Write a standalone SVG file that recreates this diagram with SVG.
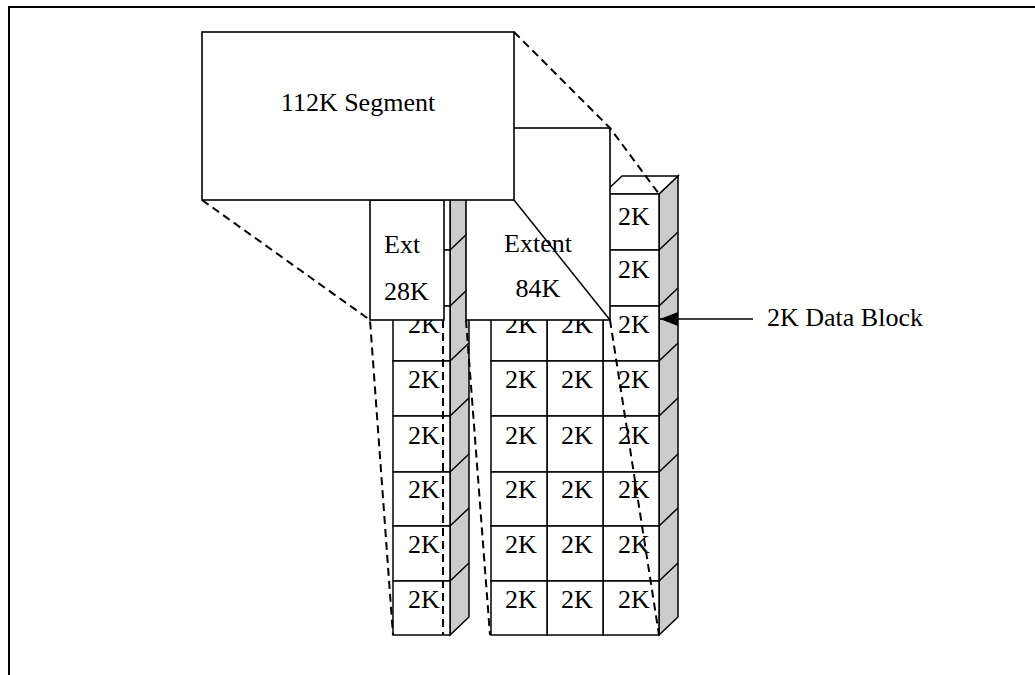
<svg xmlns="http://www.w3.org/2000/svg" width="1035" height="675" viewBox="0 0 1035 675">
  <style>
    .frame { stroke:#000; stroke-width:2; fill:none }
    .cell { fill:#fff; stroke:#000; stroke-width:1.5 }
    .side { fill:#cccccc; stroke:#000; stroke-width:1.5; stroke-linejoin:miter }
    .edge { stroke:#000; stroke-width:1.5; fill:none }
    .box { fill:#fff; stroke:#000; stroke-width:1.6 }
    .dash { stroke:#000; stroke-width:2; stroke-dasharray:8 5; fill:none }
    .t { font-family:"Liberation Serif","Times New Roman",serif; font-size:26px; fill:#000 }
    .c { text-anchor:middle }
  </style>
  <defs>
    <marker id="arrowhead" viewBox="0 0 18 14" refX="18" refY="7" markerWidth="18" markerHeight="14" markerUnits="userSpaceOnUse" orient="auto">
      <path d="M0,0 L18,7 L0,14 Z" fill="#000"/>
    </marker>
  </defs>

  <rect width="1035" height="675" fill="#fff"/>

  <!-- page frame: top and left rules -->
  <g id="frame">
    <path class="frame" d="M9,675 L9,7 L1035,7"/>
  </g>

  <!-- single stack of 2K blocks under the 28K extent -->
  <g id="column-28k">
    <polygon class="side" points="450,194 469,176 469,617 450,635"/>
    <path class="edge" d="M450,250 L469,232 M450,306 L469,288 M450,361 L469,343 M450,416 L469,398 M450,472 L469,454 M450,526 L469,508 M450,581 L469,563"/>
    <rect class="cell" x="393" y="194" width="57" height="56"/>
    <rect class="cell" x="393" y="250" width="57" height="56"/>
    <rect class="cell" x="393" y="306" width="57" height="55"/>
    <rect class="cell" x="393" y="361" width="57" height="55"/>
    <rect class="cell" x="393" y="416" width="57" height="56"/>
    <rect class="cell" x="393" y="472" width="57" height="54"/>
    <rect class="cell" x="393" y="526" width="57" height="55"/>
    <rect class="cell" x="393" y="581" width="57" height="54"/>
    <g class="t c">
      <text x="424" y="333">2K</text>
      <text x="424" y="388">2K</text>
      <text x="424" y="444">2K</text>
      <text x="424" y="498">2K</text>
      <text x="424" y="553">2K</text>
      <text x="424" y="608">2K</text>
    </g>
  </g>

  <!-- three stacks of 2K blocks under the 84K extent -->
  <g id="block-84k">
    <polygon class="side" points="659,194 678,176 678,617 659,635"/>
    <polygon class="cell" points="603,194 622,176 678,176 659,194"/>
    <path class="edge" d="M659,250 L678,232 M659,306 L678,288 M659,361 L678,343 M659,416 L678,398 M659,472 L678,454 M659,526 L678,508 M659,581 L678,563"/>
    <!-- right stack, full height -->
    <rect class="cell" x="603" y="194" width="56" height="56"/>
    <rect class="cell" x="603" y="250" width="56" height="56"/>
    <rect class="cell" x="603" y="306" width="56" height="55"/>
    <rect class="cell" x="603" y="361" width="56" height="55"/>
    <rect class="cell" x="603" y="416" width="56" height="56"/>
    <rect class="cell" x="603" y="472" width="56" height="54"/>
    <rect class="cell" x="603" y="526" width="56" height="55"/>
    <rect class="cell" x="603" y="581" width="56" height="54"/>
    <!-- middle stack -->
    <rect class="cell" x="547" y="306" width="56" height="55"/>
    <rect class="cell" x="547" y="361" width="56" height="55"/>
    <rect class="cell" x="547" y="416" width="56" height="56"/>
    <rect class="cell" x="547" y="472" width="56" height="54"/>
    <rect class="cell" x="547" y="526" width="56" height="55"/>
    <rect class="cell" x="547" y="581" width="56" height="54"/>
    <!-- left stack -->
    <rect class="cell" x="491" y="306" width="56" height="55"/>
    <rect class="cell" x="491" y="361" width="56" height="55"/>
    <rect class="cell" x="491" y="416" width="56" height="56"/>
    <rect class="cell" x="491" y="472" width="56" height="54"/>
    <rect class="cell" x="491" y="526" width="56" height="55"/>
    <rect class="cell" x="491" y="581" width="56" height="54"/>
    <g class="t c">
      <text x="634" y="225">2K</text>
      <text x="634" y="278">2K</text>
      <text x="521" y="333">2K</text><text x="577" y="333">2K</text><text x="634" y="333">2K</text>
      <text x="521" y="388">2K</text><text x="577" y="388">2K</text><text x="634" y="388">2K</text>
      <text x="521" y="444">2K</text><text x="577" y="444">2K</text><text x="634" y="444">2K</text>
      <text x="521" y="498">2K</text><text x="577" y="498">2K</text><text x="634" y="498">2K</text>
      <text x="521" y="553">2K</text><text x="577" y="553">2K</text><text x="634" y="553">2K</text>
      <text x="521" y="608">2K</text><text x="577" y="608">2K</text><text x="634" y="608">2K</text>
    </g>
  </g>

  <!-- 28K extent -->
  <g id="extent-28k">
    <rect class="box" x="370" y="200" width="74" height="120"/>
    <text class="t" x="384" y="253">Ext</text>
    <text class="t" x="384" y="300">28K</text>
  </g>

  <!-- 84K extent -->
  <g id="extent-84k">
    <rect class="box" x="466" y="128" width="144" height="192"/>
    <text class="t c" x="538" y="252">Extent</text>
    <text class="t c" x="538" y="297">84K</text>
  </g>

  <!-- 112K segment -->
  <g id="segment-112k">
    <rect class="box" x="202" y="32" width="312" height="168"/>
    <text class="t c" x="358" y="111">112K Segment</text>
  </g>

  <!-- label -->
  <g id="label-data-block">
    <text class="t" x="767" y="326">2K Data Block</text>
  </g>

  <!-- projection lines and pointer -->
  <g id="connectors">
    <path class="dash" d="M202,200 L370,320 L393,635"/>
    <path class="dash" d="M443,320 L443,635"/>
    <path class="dash" d="M466,320 L490,635"/>
    <path class="dash" d="M514,32 L610,128 L659,194"/>
    <path class="dash" d="M610,320 L659,635"/>
    <path class="edge" d="M514,200 L610,320"/>
    <line x1="753" y1="319" x2="660" y2="319" stroke="#000" stroke-width="1.5" marker-end="url(#arrowhead)"/>
  </g>
</svg>
